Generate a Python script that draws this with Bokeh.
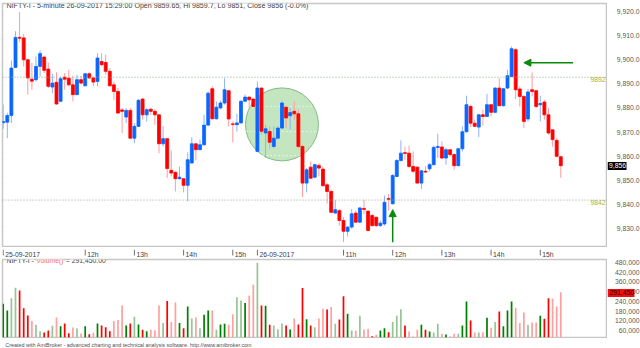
from bokeh.plotting import figure
from bokeh.models import Range1d, FixedTicker, Span, Label, Arrow, NormalHead, ColumnDataSource
from bokeh.layouts import column, row
from bokeh.core.properties import value
from bokeh.embed import file_html
from bokeh.resources import INLINE

# ---------------- data ----------------
sessions = [("25-09-2017", "10:20", 62), ("26-09-2017", "09:15", 75)]

opens = [9873.5, 9873.7, 9876.4, 9896.0, 9908.2, 9908.0, 9899.1, 9891.2, 9891.0, 9896.4,
         9900.2, 9895.3, 9888.0, 9889.9, 9882.2, 9892.0, 9891.6, 9888.9, 9884.9, 9891.0,
         9888.5, 9893.4, 9891.7, 9890.3, 9898.4, 9898.0, 9894.4, 9888.9, 9886.2, 9878.7,
         9875.8, 9878.5, 9867.2, 9872.0, 9883.1, 9876.7, 9879.0, 9878.1, 9876.7, 9864.9,
         9867.0, 9854.1, 9853.3, 9850.7, 9850.7, 9848.0, 9857.1, 9864.9, 9862.5, 9864.5,
         9872.5, 9887.3, 9875.1, 9879.5, 9881.5, 9886.5, 9873.0, 9872.7, 9873.4, 9882.2,
         9883.9, 9883.1, 9861.8, 9887.6, 9869.3, 9869.9, 9863.8, 9867.2, 9871.3, 9879.8,
         9876.3, 9878.1, 9877.1, 9863.8, 9848.9, 9855.4, 9851.3, 9856.1, 9854.6, 9848.2,
         9845.5, 9836.7, 9837.7, 9833.7, 9829.3, 9831.0, 9836.7, 9833.0, 9838.6, 9837.5,
         9835.7, 9835.0, 9831.6, 9832.3, 9842.6, 9840.5, 9851.6, 9858.1, 9861.3, 9861.1,
         9855.7, 9855.4, 9848.9, 9853.7, 9854.7, 9856.4, 9863.4, 9863.6, 9859.1, 9862.5,
         9860.5, 9856.0, 9862.9, 9869.8, 9880.1, 9873.3, 9871.7, 9876.7, 9876.0, 9880.8,
         9877.7, 9887.6, 9880.4, 9887.6, 9892.3, 9903.2, 9887.2, 9884.2, 9875.0, 9886.9,
         9886.5, 9880.8, 9881.9, 9876.7, 9870.6, 9866.3, 9859.65]

highs = [9880.8, 9877.5, 9898.8, 9910.7, 9918.5, 9909.6, 9899.5, 9897.8, 9900.5, 9902.9,
         9900.7, 9898.0, 9893.4, 9894.0, 9892.3, 9893.7, 9895.0, 9892.6, 9893.0, 9892.6,
         9893.7, 9894.0, 9892.3, 9901.8, 9901.8, 9901.2, 9895.7, 9890.3, 9887.6, 9879.4,
         9879.4, 9879.4, 9873.3, 9883.1, 9883.5, 9879.4, 9879.4, 9879.0, 9876.7, 9872.0,
         9867.0, 9862.2, 9853.7, 9855.7, 9851.0, 9861.4, 9867.6, 9864.9, 9866.6, 9876.7,
         9886.2, 9888.3, 9882.2, 9882.5, 9891.6, 9886.5, 9874.0, 9877.1, 9882.8, 9884.9,
         9884.2, 9883.5, 9890.3, 9887.6, 9872.6, 9872.0, 9872.0, 9872.0, 9882.2, 9880.4,
         9879.4, 9882.2, 9879.0, 9864.5, 9855.0, 9857.7, 9856.8, 9857.0, 9855.7, 9849.0,
         9846.2, 9842.1, 9838.4, 9835.0, 9831.3, 9838.4, 9837.7, 9839.1, 9842.1, 9837.7,
         9836.4, 9835.3, 9833.7, 9843.8, 9844.5, 9852.6, 9858.7, 9866.3, 9863.8, 9864.1,
         9861.8, 9855.7, 9854.3, 9855.7, 9857.1, 9864.1, 9869.0, 9865.9, 9863.2, 9862.5,
         9860.9, 9863.2, 9872.0, 9884.5, 9880.8, 9874.7, 9877.1, 9878.8, 9885.3, 9881.2,
         9887.9, 9891.6, 9887.6, 9895.0, 9904.5, 9903.9, 9888.3, 9884.5, 9887.2, 9893.9,
         9886.9, 9884.5, 9882.8, 9879.4, 9870.6, 9867.3, 9859.7]

lows = [9871.0, 9867.2, 9873.3, 9895.7, 9906.5, 9896.4, 9884.9, 9886.9, 9890.3, 9892.3,
        9893.7, 9887.6, 9885.5, 9880.8, 9881.8, 9886.9, 9888.3, 9882.2, 9884.9, 9888.9,
        9888.3, 9891.2, 9888.3, 9888.3, 9896.4, 9893.0, 9888.3, 9882.8, 9877.1, 9869.3,
        9873.3, 9866.8, 9865.2, 9871.7, 9874.7, 9874.0, 9876.7, 9872.6, 9861.1, 9863.8,
        9850.9, 9851.6, 9845.5, 9850.3, 9845.1, 9841.5, 9856.8, 9858.1, 9862.5, 9864.1,
        9872.0, 9874.7, 9874.7, 9879.0, 9880.8, 9872.0, 9865.5, 9869.9, 9873.1, 9881.8,
        9879.4, 9879.8, 9861.8, 9868.6, 9859.1, 9862.8, 9863.1, 9866.8, 9870.9, 9871.3,
        9870.6, 9874.7, 9863.1, 9843.2, 9845.1, 9850.5, 9850.9, 9851.6, 9847.6, 9840.5,
        9836.7, 9836.4, 9831.6, 9824.9, 9827.2, 9830.3, 9832.6, 9832.6, 9836.4, 9829.3,
        9831.0, 9831.0, 9831.0, 9831.6, 9837.7, 9840.2, 9851.3, 9857.7, 9858.4, 9855.0,
        9853.0, 9848.6, 9846.5, 9853.0, 9853.7, 9856.1, 9859.1, 9858.7, 9856.4, 9859.8,
        9854.3, 9855.7, 9861.8, 9869.5, 9871.7, 9871.7, 9867.6, 9872.3, 9875.8, 9876.0,
        9877.4, 9880.1, 9880.1, 9887.2, 9892.0, 9883.1, 9880.1, 9871.3, 9874.0, 9884.2,
        9879.4, 9874.0, 9874.7, 9868.6, 9863.8, 9859.5, 9851.0]

closes = [9874.0, 9876.4, 9895.7, 9908.2, 9907.9, 9899.1, 9891.7, 9890.4, 9896.4, 9901.6,
          9894.8, 9888.3, 9889.6, 9881.1, 9891.4, 9891.2, 9888.9, 9884.9, 9891.0, 9889.6,
          9893.4, 9891.7, 9890.0, 9899.8, 9897.1, 9894.4, 9888.5, 9886.2, 9877.4, 9878.1,
          9878.5, 9867.2, 9872.0, 9882.6, 9876.7, 9878.8, 9878.1, 9876.7, 9864.9, 9867.0,
          9854.8, 9853.0, 9850.7, 9851.3, 9848.0, 9858.4, 9864.9, 9862.5, 9864.5, 9872.5,
          9885.5, 9875.1, 9879.8, 9881.5, 9886.9, 9875.0, 9872.8, 9873.4, 9882.2, 9883.9,
          9882.8, 9880.1, 9887.6, 9870.0, 9871.0, 9865.5, 9867.2, 9871.3, 9881.5, 9875.4,
          9877.6, 9877.1, 9863.8, 9848.9, 9854.3, 9850.9, 9856.4, 9855.0, 9847.8, 9845.5,
          9837.0, 9838.1, 9833.7, 9829.3, 9831.0, 9836.4, 9833.0, 9838.8, 9838.2, 9829.6,
          9831.6, 9831.6, 9832.6, 9841.1, 9842.3, 9852.0, 9858.1, 9861.1, 9861.0, 9855.7,
          9853.7, 9848.9, 9853.9, 9853.4, 9856.4, 9863.4, 9863.8, 9859.1, 9862.5, 9860.5,
          9856.0, 9862.9, 9869.8, 9880.8, 9873.3, 9872.0, 9876.7, 9876.0, 9880.8, 9877.7,
          9887.6, 9880.4, 9887.3, 9892.6, 9903.6, 9886.9, 9884.2, 9874.0, 9886.0, 9886.2,
          9880.1, 9881.3, 9876.7, 9869.3, 9866.6, 9859.8, 9856.0]

volumes = [223000, 183000, 255000, 318000, 302000, 197000, 153000, 120000, 98000, 60000,
           52000, 64000, 92000, 142000, 90000, 106000, 48000, 82000, 76000, 46000,
           90000, 42000, 51000, 106000, 94000, 84000, 60000, 120000, 126000, 213000,
           94000, 106000, 146000, 100000, 68000, 60000, 68000, 66000, 213000, 108000,
           239000, 114000, 231000, 108000, 78000, 207000, 136000, 142000, 78000, 158000,
           183000, 183000, 68000, 100000, 104000, 98000, 161000, 262000, 243000, 227000,
           272000, 336000, 467000, 213000, 211000, 98000, 94000, 72000, 106000, 94000,
           70000, 136000, 100000, 316000, 131000, 94000, 84000, 136000, 193000, 189000,
           203000, 104000, 130000, 267000, 164000, 64000, 62000, 152000, 70000, 74000,
           30000, 39000, 64000, 78000, 54000, 114000, 152000, 191000, 94000, 58000,
           29000, 68000, 98000, 68000, 58000, 52000, 104000, 45000, 40000, 29000,
           45000, 45000, 94000, 237000, 124000, 52000, 52000, 54000, 140000, 80000,
           114000, 177000, 90000, 183000, 237000, 199000, 108000, 171000, 98000, 112000,
           112000, 152000, 134000, 255000, 253000, 207000, 291450]

# d = strong shade, l = light shade of the volume bar
vol_shade = ("ddlldddlll" "ddlldddlll" "ddlddddlll" "ddldddllll" "dlldddllld"
             "dllddlllld" "llldddllld" "dlddddllld" "lldddlllll" "dldddllldl"
             "lldddllldl" "lldddllldl" "lddddlllll" "ldddlll")

tick_keys = [("25-09-2017", "10:20", "25-09-2017"), ("25-09-2017", "12:00", "12h"),
             ("25-09-2017", "13:00", "13h"), ("25-09-2017", "14:00", "14h"),
             ("25-09-2017", "15:00", "15h"), ("26-09-2017", "09:15", "26-09-2017"),
             ("26-09-2017", "11:00", "11h"), ("26-09-2017", "12:00", "12h"),
             ("26-09-2017", "13:00", "13h"), ("26-09-2017", "14:00", "14h"),
             ("26-09-2017", "15:00", "15h")]

price_ticks = [9830, 9840, 9850, 9860, 9870, 9880, 9890, 9900, 9910, 9920]
volume_ticks = [60000, 120000, 180000, 240000, 300000, 360000, 420000, 480000]
levels = [9892, 9842]

title_main = ("NIFTY-I - 5-minute 26-09-2017 15:29:00 Open 9859.65, Hi 9859.7, "
              "Lo 9851, Close 9856 (-0.0%)")
footer_text = ("Created with AmiBroker - advanced charting and technical analysis "
               "software. http://www.amibroker.com")

# annotations (bar index / price)
circle_bar, circle_price = 68.0, 9872.8
up_arrow = (95, 9824.8, 9838.1)
left_arrow = (139.0, 127.0, 9897.9)

# ---------------- build bar times ----------------
bar_keys = []
for d, start, nbars in sessions:
    h, m = map(int, start.split(":"))
    t = h * 60 + m
    for k in range(nbars):
        tt = t + 5 * k
        bar_keys.append((d, "%02d:%02d" % (tt // 60, tt % 60)))
n = len(bar_keys)
idx = list(range(n))
tick_pos = [bar_keys.index((d, t)) for d, t, _ in tick_keys]
tick_txt = [lab for _, _, lab in tick_keys]

FONT = "Liberation Sans"
FS = "6.8px"
UP, DN = "#0a66ff", "#ff0000"
UP_W, DN_W = "#8fb2ff", "#ff9c9c"
GREEN = "#0a8a0a"
AXIS_TXT = "#5c5c4c"
FRAME = "#c6c6c6"

up = [c >= o for o, c in zip(opens, closes)]
src = ColumnDataSource(dict(
    x=idx, h=highs, l=lows,
    top=[max(o, c) for o, c in zip(opens, closes)],
    bot=[min(o, c) for o, c in zip(opens, closes)],
    body=[UP if u else DN for u in up],
    wick=[UP_W if u else DN_W for u in up],
))

xr = Range1d(-0.17, 147.15)
SIDE_W = 33


def pane(width, height, yr, top, bottom, right):
    f = figure(width=width, height=height, x_range=xr, y_range=yr,
               output_backend="svg", toolbar_location=None,
               min_border_left=2, min_border_right=right,
               min_border_top=top, min_border_bottom=bottom,
               x_axis_location=None, y_axis_location=None,
               background_fill_color="white", border_fill_color="white")
    f.xgrid.visible = False
    f.ygrid.visible = False
    return f


def side(height, lo, hi, frame_px, top, bottom, ticks, labels):
    per = (hi - lo) / frame_px
    s = figure(width=SIDE_W, height=height, x_range=Range1d(0, SIDE_W),
               y_range=Range1d(lo - bottom * per, hi + top * per),
               output_backend="svg", toolbar_location=None, min_border=0,
               x_axis_location=None, y_axis_location=None, outline_line_color=None,
               background_fill_color="white", border_fill_color="white")
    s.grid.visible = False
    s.text(x=[32] * len(ticks), y=ticks, text=labels, text_baseline="middle",
           text_align="right", text_color=AXIS_TXT, text_font=value(FONT),
           text_font_size=value(FS))
    return s


# ---------------- main price pane ----------------
P_LO, P_HI = 9823.1, 9922.0
main = pane(640 - SIDE_W, 247, Range1d(P_LO, P_HI), 3, 1, 1)
main.outline_line_color = FRAME
main.outline_line_width = 1.5
main.ygrid.visible = True
main.ygrid.ticker = FixedTicker(ticks=price_ticks)
main.ygrid.grid_line_color = "white"
main.ygrid.grid_line_dash = "1 3"

main.scatter(x=[circle_bar], y=[circle_price], size=73, marker="circle",
             fill_color="#c3e5bf", line_color="#84b984", line_width=1, level="image")

for lv in levels:
    main.add_layout(Span(location=lv, dimension="width", line_color="#8fae8f",
                         line_dash="1 2", line_width=1))
main.text(x=[xr.end] * len(levels), y=levels, text=[str(v) for v in levels],
          text_align="right", text_baseline="top", x_offset=-1,
          text_color="#a2b23c", text_font=value(FONT), text_font_size=value(FS))

main.segment(x0="x", y0="h", x1="x", y1="l", line_color="wick", line_width=1, source=src)
main.vbar(x="x", width=0.72, top="top", bottom="bot", fill_color="body",
          line_color="body", line_width=0.8, source=src)

main.add_layout(Arrow(end=NormalHead(size=7, fill_color=GREEN, line_color=GREEN),
                      x_start=up_arrow[0], y_start=up_arrow[1],
                      x_end=up_arrow[0], y_end=up_arrow[2],
                      line_color=GREEN, line_width=1.5))
main.add_layout(Arrow(end=NormalHead(size=7, fill_color=GREEN, line_color=GREEN),
                      x_start=left_arrow[0], y_start=left_arrow[2],
                      x_end=left_arrow[1], y_end=left_arrow[2],
                      line_color=GREEN, line_width=1.5))

main.add_layout(Label(x=4, y=241, x_units="screen", y_units="screen", text=title_main,
                      text_font=FONT, text_font_size="7.1px", text_color="#404040",
                      text_baseline="middle", background_fill_color="white"))

main_side = side(247, P_LO, P_HI, 243, 3, 1, price_ticks,
                 ["{:,.1f}".format(t) for t in price_ticks])
main_side.rect(x=[9.5], y=[closes[-1]], width=19, height=8, height_units="screen",
               fill_color="black", line_color=None)
main_side.text(x=[1.5], y=[closes[-1]], text=["{:,.0f}".format(closes[-1])],
               text_baseline="middle", text_align="left", text_color="white",
               text_font=value(FONT), text_font_size=value(FS))

# ---------------- date strip ----------------
strip = pane(640, 10, Range1d(0, 10), 0, 0, 34)
strip.outline_line_color = None
strip.segment(x0=tick_pos, y0=[10] * len(tick_pos), x1=tick_pos, y1=[4] * len(tick_pos),
              line_color="#707070", line_width=1)
strip.text(x=tick_pos, y=[5] * len(tick_pos), text=tick_txt, x_offset=2,
           text_align="left", text_baseline="middle", text_color="#404040",
           text_font=value(FONT), text_font_size=value(FS))

# ---------------- volume pane ----------------
V_LO, V_HI = 22500, 486000
vol = pane(640 - SIDE_W, 81, Range1d(V_LO, V_HI), 2, 1, 1)
vol.outline_line_color = FRAME
vol.outline_line_width = 1.5
palette = {(True, "d"): "#008000", (True, "l"): "#98c498",
           (False, "d"): "#ff0000", (False, "l"): "#ffa0a0"}
vcols = [palette[(u, s)] for u, s in zip(up, vol_shade)]
vol.vbar(x=idx, width=0.42, top=volumes, bottom=0, fill_color=vcols, line_color=None)

w1 = 4.389 * 6.8
w2 = 4.056 * 6.8
parts = [("NIFTY-I -", "#404040", 0), ("Volume()", "#ff6a6a", w1),
         ("= {:,.2f}".format(volumes[-1]), "#404040", w1 + w2 + 0.28 * 6.8)]
for txt, col, off in parts:
    vol.add_layout(Label(x=4 + off, y=77, x_units="screen", y_units="screen", text=txt,
                         text_font=FONT, text_font_size=FS, text_color=col,
                         text_baseline="middle", background_fill_color="white"))

vol_side = side(81, V_LO, V_HI, 78, 2, 1, volume_ticks,
                ["{:,}".format(t) for t in volume_ticks])
vol_side.rect(x=[13.5], y=[volumes[-1]], width=27, height=8, height_units="screen",
              fill_color="#f01010", line_color=None)
vol_side.text(x=[2], y=[volumes[-1]], text=["{:,.0f}".format(volumes[-1])],
              text_baseline="middle", text_align="left", text_color="#200000",
              text_font=value(FONT), text_font_size=value(FS))

# ---------------- footer ----------------
foot = figure(width=640, height=10, x_range=Range1d(0, 640), y_range=Range1d(0, 10),
              output_backend="svg", toolbar_location=None, min_border=0,
              x_axis_location=None, y_axis_location=None, outline_line_color=None)
foot.grid.visible = False
foot.text(x=[3], y=[5.2], text=[footer_text], text_baseline="middle",
          text_color="#505050", text_font=value(FONT), text_font_size=value("5.4px"))

layout = column(row(main, main_side, spacing=0), strip,
                row(vol, vol_side, spacing=0), foot, spacing=0)
open("out.html", "w").write(file_html(layout, INLINE))
